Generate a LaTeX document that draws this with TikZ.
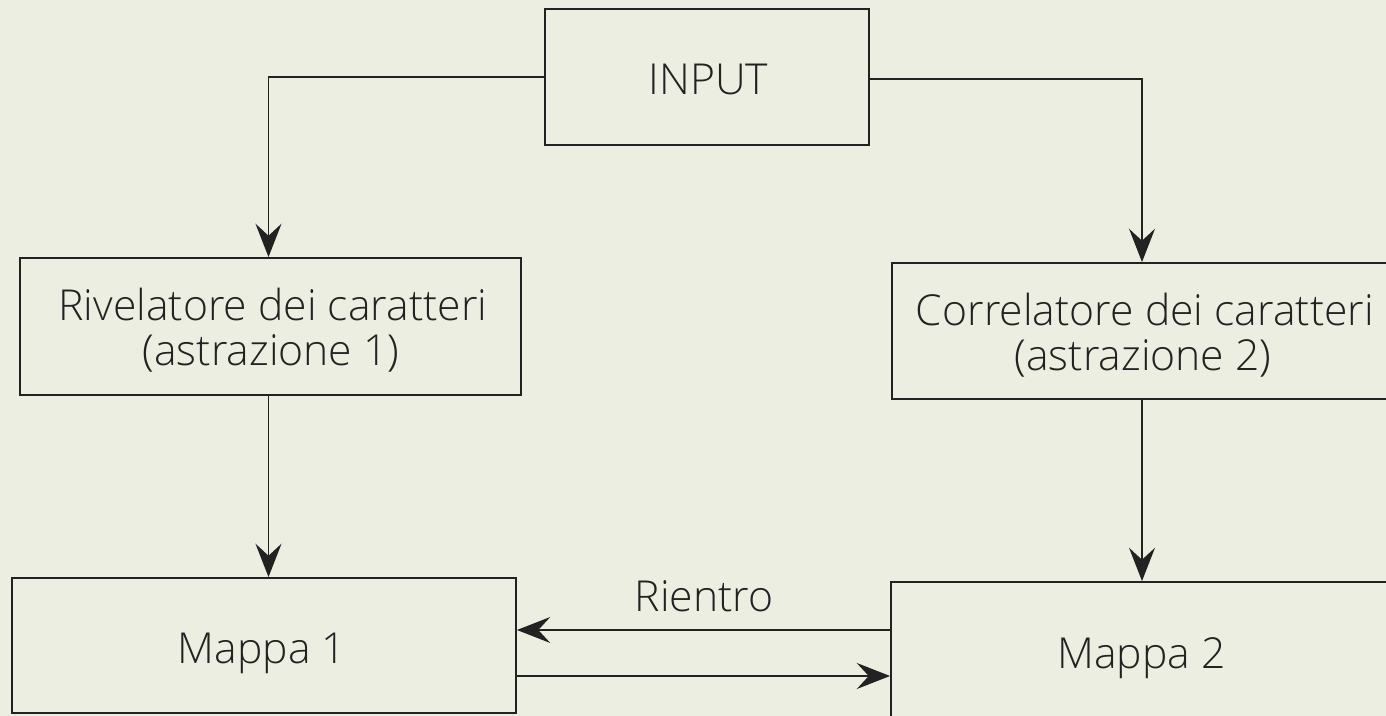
\documentclass[tikz,border=0pt]{standalone}
\usepackage{fontspec}
\IfFontExistsTF{Open Sans Light}{\setmainfont{Open Sans Light}}{\setmainfont{Open Sans}}
\usetikzlibrary{arrows.meta}
\definecolor{bg}{RGB}{237,238,226}
\definecolor{ink}{RGB}{34,34,34}
\begin{document}
\begin{tikzpicture}[x=0.75pt,y=-0.75pt,
  box/.style={draw=ink,line width=1.4pt,fill=none,inner sep=0pt},
  conn/.style={draw=ink,line width=1.3pt,-{Stealth[length=25pt,width=19.5pt,inset=9pt]}},
  txt/.style={font=\fontsize{32}{38}\selectfont,text=ink,inner sep=0pt,anchor=base}]
\fill[bg] (0,0) rectangle (1386,716);
\useasboundingbox (0,0) rectangle (1386,716);
\clip (0,0) rectangle (1386,716);
% boxes
\node[box,minimum width=324*0.75pt,minimum height=136*0.75pt] (in) at (707,77) {};
\node[box,minimum width=501*0.75pt,minimum height=137*0.75pt] (riv) at (270.5,326.5) {};
\node[box,minimum width=500*0.75pt,minimum height=136*0.75pt] (cor) at (1142,331) {};
\node[box,minimum width=504*0.75pt,minimum height=135*0.75pt] (m1) at (264,645.5) {};
\node[box,minimum width=500*0.75pt,minimum height=140*0.75pt] (m2) at (1141,652) {};
% texts
\node[txt] (inT) at (708.5,95) {INPUT};
\node[txt] (rivA) at (273,321) {Rivelatore dei caratteri};
\node[txt] (rivB) at (271,366) {(astrazione 1)};
\node[txt] (corA) at (1145,326) {Correlatore dei caratteri};
\node[txt] (corB) at (1143,371) {(astrazione 2)};
\node[txt] (m1T) at (262,663) {Mappa 1};
\node[txt] (m2T) at (1141.5,668) {Mappa 2};
\node[txt] (rient) at (704,611) {Rientro};
% connectors
\coordinate (inL) at (545,77);
\coordinate (inR) at (869,79);
\draw[conn] (inL) -| ([xshift=-2*0.75pt]riv.north);
\draw[conn] (inR) -| (cor.north);
\draw[conn] ([xshift=-2*0.75pt]riv.south) -- ([xshift=-2*0.75pt]riv.south |- m1.north);
\draw[conn] (cor.south) -- (cor.south |- m2.north);
\coordinate (r2) at (891,630);
\draw[conn] (r2) -- (r2 -| m1.east);
\coordinate (f1) at (516,676);
\draw[conn] (f1) -- (f1 -| m2.west);
\end{tikzpicture}
\end{document}
